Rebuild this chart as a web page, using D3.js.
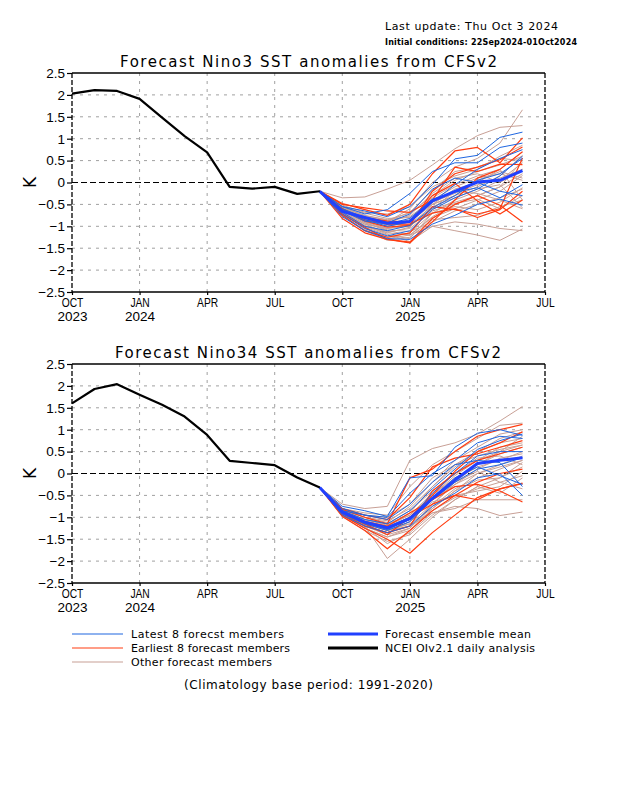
<!DOCTYPE html>
<html><head><meta charset="utf-8">
<script src="https://cdn.jsdelivr.net/npm/d3@7"></script>
<style>body{margin:0;background:#fff}</style>
</head><body>
<script>
// ---------- data ----------
const monthTicks = [0,3,6,9,12,15,18,21];
const monthLabels = ["OCT","JAN","APR","JUL","OCT","JAN","APR","JUL"];
const yearLabels = ["2023","2024","","","","2025","",""];
const yTicks = [-2.5,-2,-1.5,-1,-0.5,0,0.5,1,1.5,2,2.5];
const obsMonths = [0,1,2,3,4,5,6,7,8,9,10,11];
const fcMonths = [11,12,13,14,15,16,17,18,19,20];

const nino3Obs = [2.03,2.11,2.09,1.91,1.48,1.06,0.69,-0.10,-0.14,-0.10,-0.26,-0.20];
const nino3Mean = [-0.20,-0.66,-0.80,-0.93,-0.89,-0.42,-0.20,0.01,0.05,0.27];
const nino3Latest = [
  [-0.2,-0.55,-0.65,-0.78,-0.55,-0.05,0.54,0.62,1.03,1.15],
  [-0.2,-0.62,-0.85,-1.00,-0.90,-0.45,-0.05,0.30,0.55,0.75],
  [-0.2,-0.72,-1.05,-1.22,-1.10,-0.62,-0.35,-0.15,0.15,0.60],
  [-0.2,-0.60,-0.80,-0.92,-0.72,-0.15,0.10,0.00,-0.20,-0.30],
  [-0.2,-0.78,-1.10,-1.28,-1.30,-0.95,-0.75,-0.50,-0.38,-0.52],
  [-0.2,-0.55,-0.72,-0.62,-0.25,0.25,0.45,0.45,0.80,0.90],
  [-0.2,-0.68,-1.00,-1.10,-0.98,-0.58,-0.30,0.05,0.20,0.55],
  [-0.2,-0.65,-0.88,-0.95,-0.82,-0.38,-0.22,-0.12,-0.35,-0.05]
];
const nino3Earliest = [
  [-0.2,-0.48,-0.62,-0.75,-0.50,0.20,0.72,0.80,0.45,1.02],
  [-0.2,-0.60,-0.88,-1.02,-0.98,-0.20,0.20,0.35,0.52,0.81],
  [-0.2,-0.72,-1.02,-1.30,-1.36,-0.82,-0.50,-0.30,-0.52,-0.90],
  [-0.2,-0.65,-0.80,-0.88,-0.90,-0.30,-0.02,-0.42,-0.72,-0.40],
  [-0.2,-0.75,-1.10,-1.25,-1.15,-0.55,-0.62,-0.72,-0.60,0.56],
  [-0.2,-0.50,-0.58,-0.65,-0.68,-0.40,0.35,0.25,0.42,0.41],
  [-0.2,-0.82,-1.15,-1.30,-1.38,-0.90,-0.40,0.10,0.30,0.70],
  [-0.2,-0.60,-0.85,-0.95,-0.95,-0.70,-0.60,-0.80,-0.62,-0.20]
];
const nino3Other = [
  [-0.2,-0.35,-0.33,-0.15,0.05,0.40,0.77,1.07,1.26,1.30],
  [-0.2,-0.55,-0.78,-0.90,-0.60,0.00,0.35,0.55,0.90,1.66],
  [-0.2,-0.62,-0.92,-1.10,-1.20,-1.00,-1.10,-1.20,-1.32,-1.06],
  [-0.2,-0.70,-1.00,-1.15,-1.20,-0.80,-0.60,-0.40,-0.20,0.16],
  [-0.2,-0.58,-0.75,-0.85,-0.70,-0.30,0.05,0.25,0.40,0.60],
  [-0.2,-0.66,-0.95,-1.05,-1.00,-0.60,-0.45,-0.30,-0.10,0.50],
  [-0.2,-0.70,-1.05,-1.25,-1.15,-0.70,-0.55,-0.62,-0.45,-0.12],
  [-0.2,-0.60,-0.82,-0.98,-0.85,-0.45,-0.25,-0.05,0.10,0.30],
  [-0.2,-0.74,-1.10,-1.32,-1.25,-0.85,-0.80,-0.75,-0.55,-0.40],
  [-0.2,-0.55,-0.70,-0.82,-0.80,-0.50,-0.15,0.00,0.30,0.70],
  [-0.2,-0.64,-0.90,-1.05,-0.95,-0.55,-0.35,-0.15,-0.05,-0.58],
  [-0.2,-0.68,-0.98,-1.18,-1.35,-1.00,-0.90,-0.95,-1.05,-1.10],
  [-0.2,-0.60,-0.85,-0.92,-0.75,-0.25,0.10,0.20,0.00,0.30],
  [-0.2,-0.72,-1.02,-1.20,-1.28,-0.70,-0.40,-0.20,0.05,0.45],
  [-0.2,-0.62,-0.90,-1.00,-0.88,-0.35,-0.05,0.15,0.30,-0.40],
  [-0.2,-0.58,-0.80,-0.88,-0.68,-0.18,0.25,0.35,0.55,0.50],
  [-0.2,-0.70,-1.00,-1.12,-1.05,-0.65,-0.48,-0.38,-0.60,-0.30],
  [-0.2,-0.66,-0.88,-1.00,-0.90,-0.50,-0.30,-0.10,0.15,0.62],
  [-0.2,-0.76,-1.08,-1.28,-1.20,-0.78,-0.50,-0.30,-0.10,0.20],
  [-0.2,-0.52,-0.68,-0.72,-0.55,-0.10,0.15,0.30,0.60,0.85],
  [-0.2,-0.64,-0.92,-1.08,-1.12,-0.90,-0.65,-0.50,-0.35,-0.15],
  [-0.2,-0.60,-0.80,-0.95,-0.98,-0.60,-0.20,-0.25,-0.40,-0.60],
  [-0.2,-0.68,-0.95,-1.15,-1.02,-0.50,-0.30,0.05,0.25,0.10],
  [-0.2,-0.56,-0.76,-0.86,-0.78,-0.40,-0.10,0.10,0.20,0.05]
];

const nino34Obs = [1.60,1.93,2.04,1.80,1.57,1.30,0.88,0.29,0.24,0.19,-0.09,-0.32];
const nino34Mean = [-0.32,-0.88,-1.11,-1.24,-1.03,-0.57,-0.15,0.23,0.30,0.36];
const nino34Latest = [
  [-0.32,-0.75,-0.85,-0.98,-0.10,-0.05,0.60,0.92,1.00,0.87],
  [-0.32,-0.85,-1.05,-1.15,-0.85,-0.35,0.10,0.55,0.75,0.90],
  [-0.32,-0.92,-1.15,-1.30,-1.10,-0.60,-0.20,0.10,0.20,0.36],
  [-0.32,-0.80,-0.95,-1.05,-0.70,-0.20,0.20,0.30,0.25,-0.30],
  [-0.32,-0.95,-1.20,-1.35,-1.20,-0.75,-0.45,-0.10,0.00,-0.50],
  [-0.32,-0.85,-0.95,-1.00,-0.45,0.00,0.30,0.70,0.85,0.80],
  [-0.32,-0.88,-1.10,-1.22,-1.00,-0.55,-0.10,0.15,-0.05,-0.25],
  [-0.32,-0.90,-1.12,-1.28,-1.05,-0.45,0.00,0.40,0.50,0.50]
];
const nino34Earliest = [
  [-0.32,-0.82,-1.00,-1.15,-0.10,0.10,0.50,0.85,1.00,1.12],
  [-0.32,-0.95,-1.25,-1.50,-1.82,-1.35,-0.95,-0.55,-0.35,-0.23],
  [-0.32,-0.90,-1.15,-1.40,-1.00,-0.50,0.05,0.50,0.70,0.95],
  [-0.32,-0.85,-1.10,-1.20,-0.90,-0.60,-0.30,-0.25,-0.40,-0.65],
  [-0.32,-0.98,-1.30,-1.72,-1.30,-0.85,-0.50,-0.60,-0.35,-0.22],
  [-0.32,-0.80,-0.95,-1.05,-0.55,0.15,0.35,0.45,0.60,0.75],
  [-0.32,-0.92,-1.20,-1.35,-1.20,-0.40,0.00,0.30,0.45,0.60],
  [-0.32,-0.88,-1.15,-1.25,-1.00,-0.70,-0.50,-0.20,0.00,0.10]
];
const nino34Other = [
  [-0.32,-0.70,-0.80,-0.75,0.30,0.57,0.70,0.90,1.20,1.53],
  [-0.32,-0.80,-0.90,-0.95,-0.30,0.20,0.50,0.80,1.10,1.15],
  [-0.32,-0.90,-1.20,-1.94,-1.50,-1.00,-0.60,-0.30,-0.10,0.15],
  [-0.32,-0.88,-1.10,-1.30,-1.20,-0.90,-0.75,-0.80,-0.96,-0.88],
  [-0.32,-0.85,-1.05,-1.15,-0.85,-0.40,0.00,0.30,0.60,0.70],
  [-0.32,-0.92,-1.18,-1.35,-1.10,-0.60,-0.20,0.20,0.45,0.60],
  [-0.32,-0.95,-1.25,-1.45,-1.30,-0.80,-0.40,0.00,0.20,0.40],
  [-0.32,-0.82,-1.00,-1.08,-0.80,-0.30,0.15,0.50,0.80,0.95],
  [-0.32,-0.90,-1.15,-1.30,-1.10,-0.50,-0.05,0.30,0.50,0.65],
  [-0.32,-0.88,-1.08,-1.20,-0.95,-0.45,0.00,0.35,0.40,0.20],
  [-0.32,-0.98,-1.30,-1.55,-1.40,-0.95,-0.60,-0.30,-0.45,-0.10],
  [-0.32,-0.86,-1.05,-1.18,-0.90,-0.30,0.20,0.50,0.70,0.80],
  [-0.32,-0.92,-1.20,-1.40,-1.25,-0.75,-0.35,-0.10,0.10,0.30],
  [-0.32,-0.84,-1.00,-1.12,-0.75,-0.20,0.30,0.60,0.90,1.00],
  [-0.32,-0.90,-1.12,-1.25,-1.05,-0.65,-0.50,-0.40,-0.30,0.05],
  [-0.32,-0.94,-1.22,-1.60,-1.35,-0.90,-0.80,-0.60,-0.60,-0.60],
  [-0.32,-0.86,-1.08,-1.22,-1.00,-0.55,-0.15,0.15,0.30,0.50],
  [-0.32,-0.90,-1.15,-1.30,-1.15,-0.70,-0.25,0.10,0.35,0.45],
  [-0.32,-0.80,-0.95,-1.00,-0.70,-0.10,0.20,0.40,0.55,0.65],
  [-0.32,-0.95,-1.25,-1.45,-1.25,-0.70,-0.20,0.05,-0.20,-0.35],
  [-0.32,-0.88,-1.10,-1.28,-1.15,-0.80,-0.40,-0.15,-0.10,0.25],
  [-0.32,-0.84,-1.05,-1.15,-0.95,-0.50,-0.10,0.20,0.50,0.85],
  [-0.32,-0.92,-1.18,-1.35,-1.20,-0.85,-0.55,-0.35,-0.20,-0.05],
  [-0.32,-0.90,-1.10,-1.25,-1.05,-0.60,-0.25,0.00,0.15,0.30]
];

const legendItems = [
  {label:"Latest 8 forecst members", key:"latest"},
  {label:"Earliest 8 forecast members", key:"earliest"},
  {label:"Other forecast members", key:"other"},
  {label:"Forecast ensemble mean", key:"mean"},
  {label:"NCEI OIv2.1 daily analysis", key:"obs"}
];

// ---------- styles ----------
const COL = {latest:"#1f66e0", earliest:"#ff3c10", other:"#c8a096", mean:"#2040ff", obs:"#000000"};
const WID = {latest:1, earliest:1.2, other:1, mean:3, obs:2.2};
const FONT = "'DejaVu Sans', sans-serif";
const TICKFONT = "'Liberation Sans', Arial, sans-serif";

const W = 618, H = 800;
const svg = d3.select("body").append("svg").attr("width", W).attr("height", H)
  .style("background","#fff");

function fitText(sel, len, adjust) {
  sel.attr("textLength", len).attr("lengthAdjust", adjust || "spacing");
  return sel;
}

// header
fitText(svg.append("text").attr("x",385).attr("y",30)
  .style("font-family",FONT).style("font-size","11px")
  .text("Last update: Thu Oct 3 2024"), 173);
fitText(svg.append("text").attr("x",385).attr("y",44.5)
  .style("font-family",FONT).style("font-size","8px").style("font-weight","bold")
  .text("Initial conditions: 22Sep2024-01Oct2024"), 192);

const x = d3.scaleLinear().domain([0,21]).range([72,545]);

function panel(top, bottom, title, titleX0, titleX1, obs, mean, latest, earliest, other) {
  const y = d3.scaleLinear().domain([-2.5,2.5]).range([bottom, top]);
  const g = svg.append("g");

  // title
  fitText(g.append("text").attr("x",titleX0).attr("y",top-6)
    .style("font-family",FONT).style("font-size","15px")
    .text(title), titleX1-titleX0);

  // grid
  g.append("g").selectAll("line").data(yTicks.filter(v => v !== 0 && Math.abs(v) < 2.5))
    .join("line").attr("x1",x(0)).attr("x2",x(21)).attr("y1",d=>y(d)).attr("y2",d=>y(d))
    .attr("stroke","#a0a0a0").attr("stroke-width",1).attr("stroke-dasharray","3,5");
  g.append("g").selectAll("line").data(monthTicks.filter(m => m > 0 && m < 21))
    .join("line").attr("x1",d=>x(d)).attr("x2",d=>x(d)).attr("y1",y(2.5)).attr("y2",y(-2.5))
    .attr("stroke","#a0a0a0").attr("stroke-width",1).attr("stroke-dasharray","3,5");
  // zero line
  g.append("line").attr("x1",x(0)).attr("x2",x(21)).attr("y1",y(0)).attr("y2",y(0))
    .attr("stroke","#000").attr("stroke-width",1.2).attr("stroke-dasharray","6,3");

  const line = d3.line().x((d,i)=>x(fcMonths[i])).y(d=>y(d));
  const drawSet = (set, key) => g.append("g").selectAll("path").data(set).join("path")
    .attr("d", line).attr("fill","none").attr("stroke",COL[key]).attr("stroke-width",WID[key])
    .attr("stroke-linejoin","round");
  drawSet(other, "other");
  drawSet(earliest, "earliest");
  drawSet(latest, "latest");
  drawSet([mean], "mean");

  g.append("path").datum(obs)
    .attr("d", d3.line().x((d,i)=>x(obsMonths[i])).y(d=>y(d)))
    .attr("fill","none").attr("stroke",COL.obs).attr("stroke-width",WID.obs)
    .attr("stroke-linejoin","round");

  // frame
  g.append("line").attr("x1",x(0)).attr("x2",x(21)).attr("y1",y(2.5)).attr("y2",y(2.5))
    .attr("stroke","#000").attr("stroke-width",1.3);
  g.append("line").attr("x1",x(0)).attr("x2",x(0)).attr("y1",y(2.5)).attr("y2",y(-2.5))
    .attr("stroke","#000").attr("stroke-width",1.3).attr("stroke-dasharray","5,2");
  g.append("line").attr("x1",x(21)).attr("x2",x(21)).attr("y1",y(2.5)).attr("y2",y(-2.5))
    .attr("stroke","#000").attr("stroke-width",1.3).attr("stroke-dasharray","5,2");

  // y axis
  const ya = g.append("g").attr("transform",`translate(${x(0)},0)`)
    .call(d3.axisLeft(y).tickValues(yTicks).tickSize(5).tickPadding(2).tickFormat(d3.format("")));
  ya.select(".domain").remove();
  ya.selectAll(".tick line").attr("stroke","#000").attr("stroke-width",1.2);
  ya.selectAll(".tick text").style("font-family",TICKFONT).style("font-size","13.5px").attr("fill","#000");

  // x axis
  const xa = g.append("g").attr("transform",`translate(0,${bottom})`)
    .call(d3.axisBottom(x).tickValues(monthTicks).tickSize(3).tickPadding(3)
      .tickFormat((d,i)=>monthLabels[i]));
  xa.select(".domain").attr("stroke","#000").attr("stroke-width",1.3).attr("d",`M${x(0)},0H${x(21)}`);
  xa.selectAll(".tick line").attr("stroke","#000").attr("stroke-width",1.2);
  xa.selectAll(".tick text").style("font-family",TICKFONT).style("font-size","13.5px")
    .attr("fill","#000").attr("dy","0.68em")
    .each(function(){ const n=this.getComputedTextLength(); d3.select(this).attr("textLength",n*0.76).attr("lengthAdjust","spacingAndGlyphs"); });
  xa.selectAll(".tick").append("text")
    .text((d,i)=>yearLabels[i]).attr("y",20).attr("dy","0.68em")
    .attr("text-anchor","middle").attr("fill","#000")
    .style("font-family",TICKFONT).style("font-size","13.5px");

  // K label
  g.append("text").attr("transform",`translate(36,${y(0)}) rotate(-90)`)
    .attr("text-anchor","middle").style("font-family",FONT).style("font-size","17px")
    .text("K");
}

panel(73, 292, "Forecast Nino3 SST anomalies from CFSv2", 120, 497,
  nino3Obs, nino3Mean, nino3Latest, nino3Earliest, nino3Other);
panel(364, 583, "Forecast Nino34 SST anomalies from CFSv2", 115, 501,
  nino34Obs, nino34Mean, nino34Latest, nino34Earliest, nino34Other);

// legend
const legendPos = [
  {x0:72, x1:123, y:634, tx:131, tl:153},
  {x0:72, x1:123, y:648, tx:131, tl:159},
  {x0:72, x1:123, y:662, tx:131, tl:141},
  {x0:328, x1:378, y:634, tx:385, tl:146},
  {x0:328, x1:378, y:648, tx:385, tl:150}
];
const lg = svg.append("g");
legendItems.forEach((it,i) => {
  const p = legendPos[i];
  lg.append("line").attr("x1",p.x0).attr("x2",p.x1).attr("y1",p.y).attr("y2",p.y)
    .attr("stroke",COL[it.key]).attr("stroke-width", it.key==="mean"||it.key==="obs" ? 3 : 1.2);
  fitText(lg.append("text").attr("x",p.tx).attr("y",p.y+4)
    .style("font-family",FONT).style("font-size","11px").text(it.label), p.tl);
});
fitText(lg.append("text").attr("x",184).attr("y",689)
  .style("font-family",FONT).style("font-size","12px")
  .text("(Climatology base period: 1991-2020)"), 249);
</script>
</body></html>
